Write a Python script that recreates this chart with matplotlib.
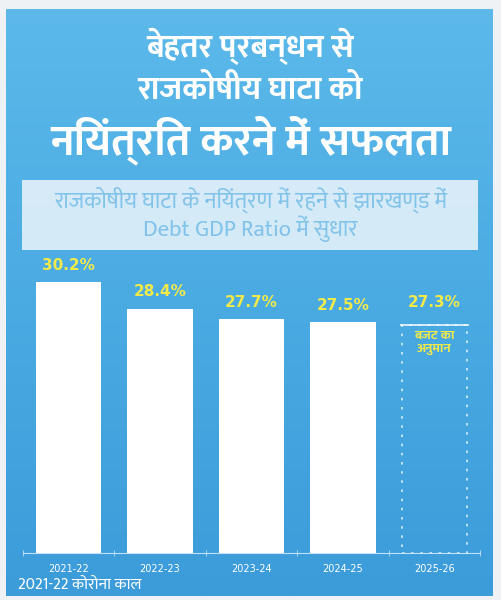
import matplotlib
matplotlib.use('Agg')
import matplotlib.pyplot as plt
from matplotlib.colors import LinearSegmentedColormap
import numpy as np

years = ['2021-22', '2022-23', '2023-24', '2024-25', '2025-26']
ratios = [30.2, 28.4, 27.7, 27.5, 27.3]
value_labels = ['30.2%', '28.4%', '27.7%', '27.5%', '27.3%']
is_estimate = [False, False, False, False, True]
title_lines = ['बेहतर प्रबन्धन से', 'राजकोषीय घाटा को', 'नियंत्रित करने में सफलता']
subtitle_lines = ['राजकोषीय घाटा के नियंत्रण में रहने से झारखण्ड में', 'Debt GDP Ratio में सुधार']
estimate_note = 'बजट का\nअनुमान'
footnote = '2021-22 कोरोना काल'

fam = ['Mukta', 'DejaVu Sans']

W, H = 501, 600
fig = plt.figure(figsize=(W / 100, H / 100), dpi=100)
fig.patch.set_facecolor('#eef2f4')

# background panel with gradient
bg = fig.add_axes([6 / W, 1 - 596 / H, (493 - 6) / W, (596 - 9) / H])
cmap = LinearSegmentedColormap.from_list('bg', ['#5cb9ea', '#4aaae2', '#3c9cda'])
grad = np.linspace(0, 1, 256).reshape(-1, 1)
bg.imshow(grad, aspect='auto', cmap=cmap, extent=[0, 1, 0, 1], origin='upper')
bg.set_xlim(0, 1)
bg.set_ylim(0, 1)
bg.axis('off')

# title
fig.text(0.5, 1 - 46 / H, title_lines[0], ha='center', va='center', color='white',
         fontsize=23, fontweight='bold', family=fam)
fig.text(0.5, 1 - 91 / H, title_lines[1], ha='center', va='center', color='white',
         fontsize=23, fontweight='bold', family=fam)
fig.text(0.5, 1 - 140 / H, title_lines[2], ha='center', va='center', color='white',
         fontsize=31, fontweight='bold', family=fam)

# subtitle box
box = plt.Rectangle((22 / W, 1 - 250 / H), (478 - 22) / W, 70 / H, transform=fig.transFigure,
                    facecolor='#e2f0f9', edgecolor='none', alpha=0.92)
fig.patches.append(box)
fig.text(0.5, 1 - 200 / H, subtitle_lines[0], ha='center', va='center', color='#82c3ea',
         fontsize=16.5, family=fam)
fig.text(0.5, 1 - 229 / H, subtitle_lines[1], ha='center', va='center', color='#82c3ea',
         fontsize=16.5, family=fam)

# chart
ax = fig.add_axes([22.75 / W, 1 - 553 / H, 457.5 / W, 285 / H])
ax.set_facecolor('none')
x = np.arange(len(years))
ymin, ymax = 12.0, 12.0 + 285 / 14.9
for xi, v, lab, est in zip(x, ratios, value_labels, is_estimate):
    if est:
        ax.bar(xi, v - ymin, bottom=ymin, width=0.72, fill=False, edgecolor='white',
               linestyle=(0, (1.5, 4)), linewidth=1.2, alpha=0.8)
        ax.hlines(v, xi - 0.38, xi + 0.38, color='white', linewidth=1.2, alpha=0.9)
        ax.text(xi, v - 0.35, estimate_note, ha='center', va='top', color='#f2ea4a',
                fontsize=9.5, fontweight='bold', family=fam, linespacing=1.1)
        off = 16
    else:
        ax.bar(xi, v - ymin, bottom=ymin, width=0.72, color='white')
        off = 12
    ax.annotate(lab, (xi, v), xytext=(0, off), textcoords='offset points', ha='center',
                va='center', color='#f2ea4a', fontsize=11, fontweight='bold')

ax.set_xlim(-0.5, len(years) - 0.5)
ax.set_ylim(ymin, ymax)
for s in ['top', 'right', 'left']:
    ax.spines[s].set_visible(False)
ax.spines['bottom'].set_color('#bfe2f6')
ax.spines['bottom'].set_linewidth(0.8)
ax.set_yticks([])
ax.set_xticks(x)
ax.set_xticklabels(years, color='white', fontsize=7)
ax.tick_params(axis='x', length=0, pad=8)
ax.set_xticks(np.arange(-0.5, len(years), 1), minor=True)
ax.tick_params(axis='x', which='minor', length=4, color='#bfe2f6', direction='inout')

fig.text(18 / W, 1 - 585 / H, footnote, ha='left', va='center', color='white',
         fontsize=11.5, family=fam)

fig.savefig('out.png', dpi=100)
